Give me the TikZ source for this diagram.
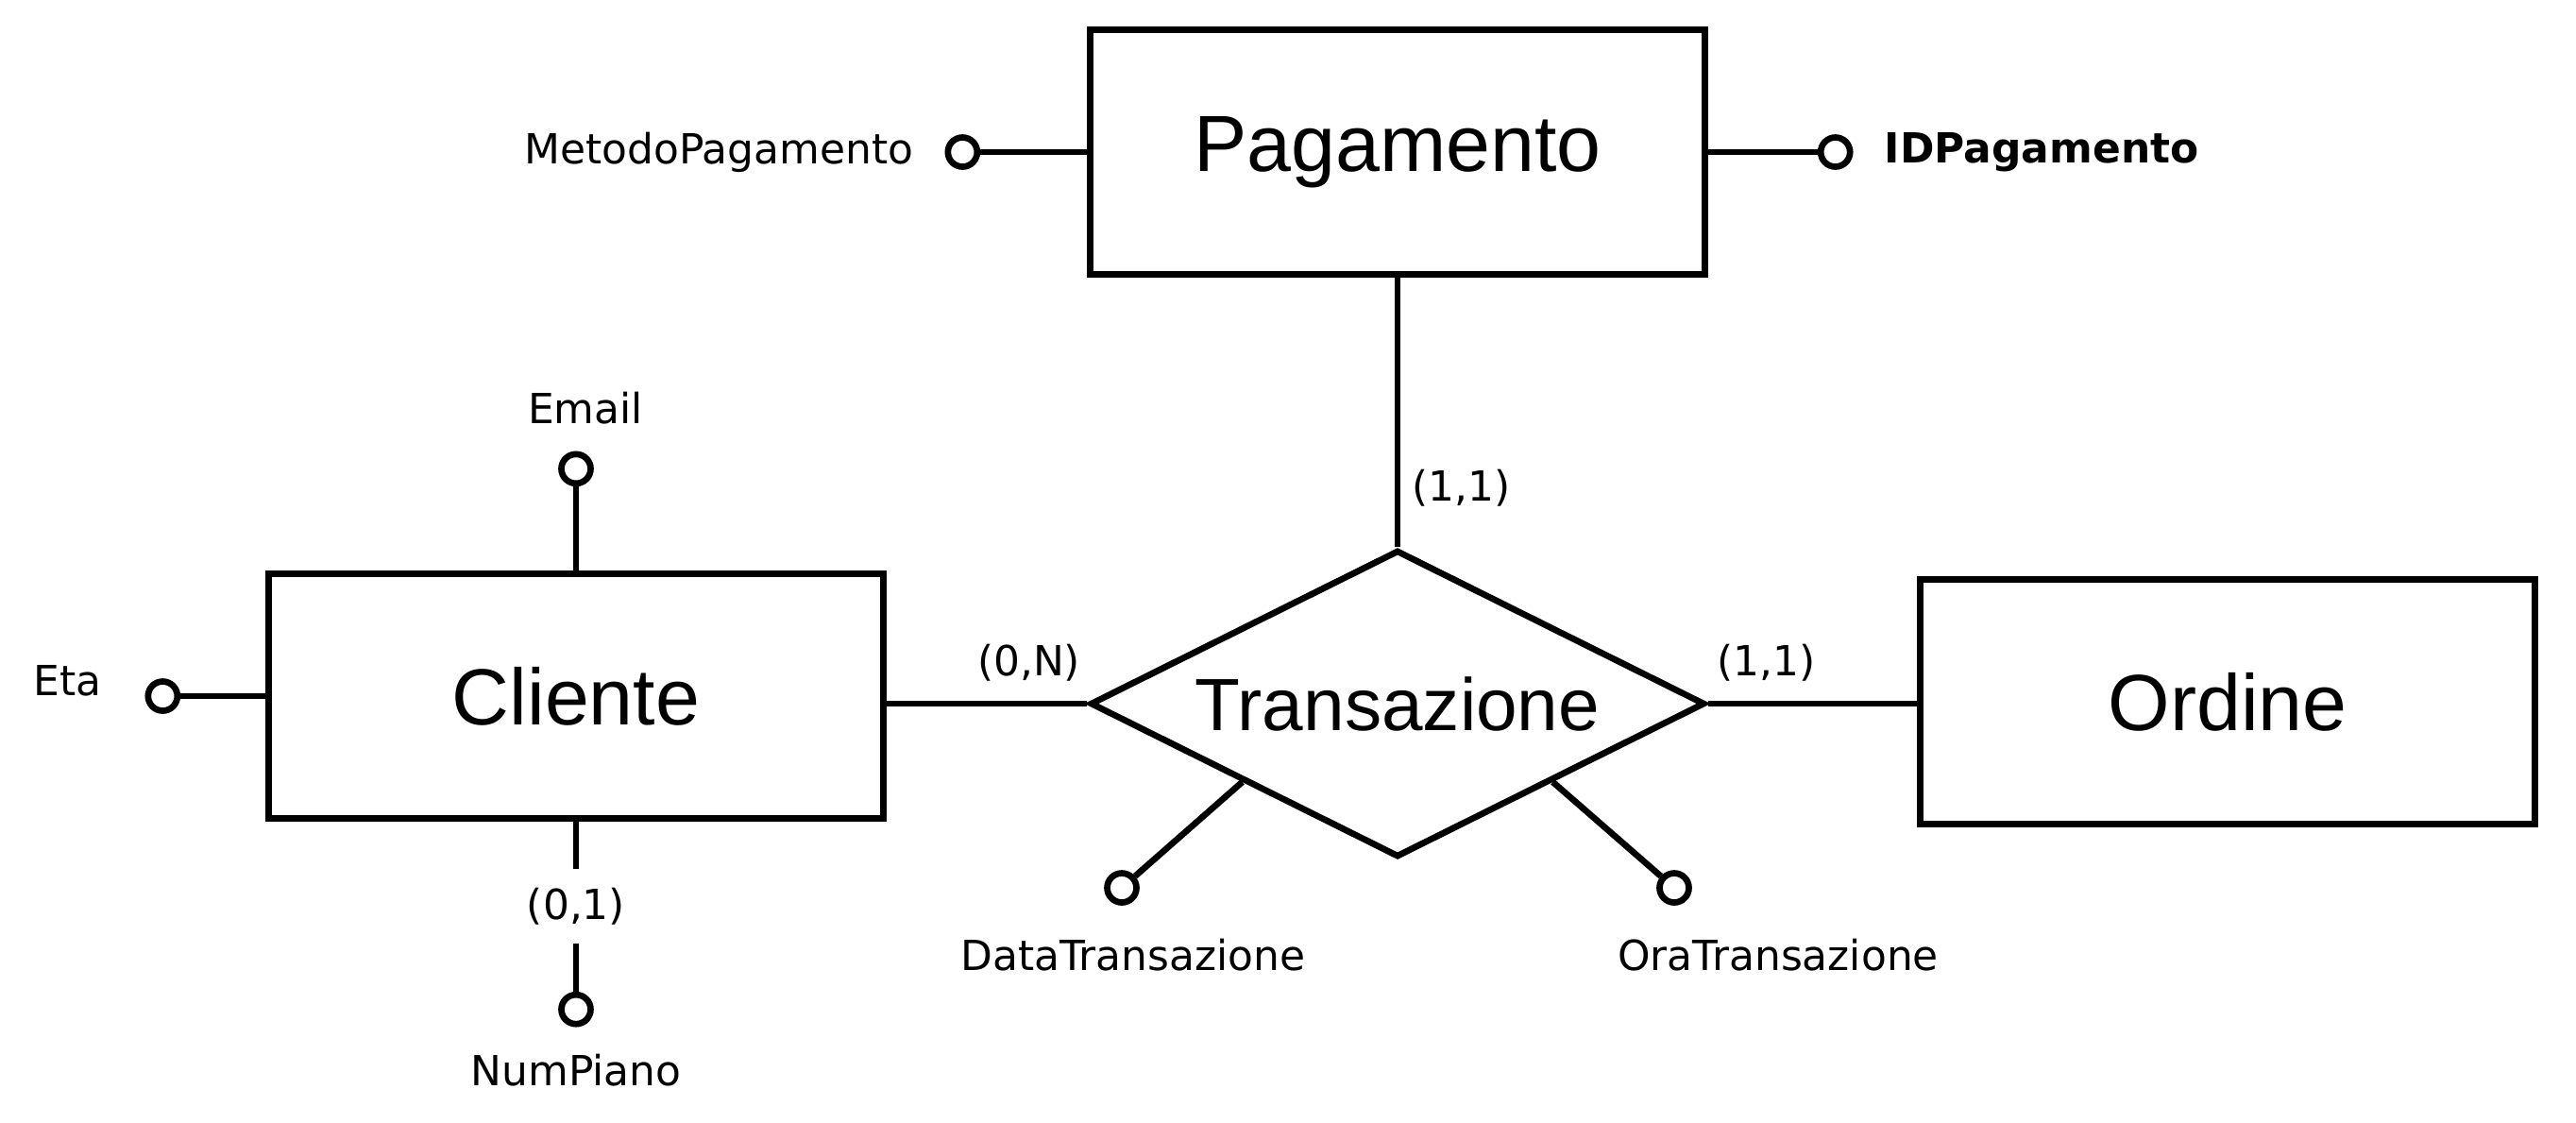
\documentclass[tikz,border=0pt]{standalone}
\usepackage{fontspec}
\newfontfamily\entfont{Liberation Sans}
\newfontfamily\attfont{DejaVu Sans}
\usetikzlibrary{positioning,shapes.geometric}

\begin{document}
\begin{tikzpicture}[
line width=1.9pt,
ent/.style={draw,rectangle,minimum width=6.51cm,minimum height=2.59cm,inner sep=0pt,font=\entfont\fontsize{24}{28}\selectfont},
rel/.style={draw,diamond,aspect=2,minimum width=6.51cm,minimum height=3.25cm,inner sep=0pt,font=\entfont\fontsize{22.3}{26}\selectfont},
att/.style={draw,circle,fill=white,minimum size=0.31cm,inner sep=0pt},
txt/.style={inner sep=0pt,font=\attfont\fontsize{12.5}{15}\selectfont},
card/.style={inner sep=0pt,font=\attfont\fontsize{12.5}{15}\selectfont}
]
\useasboundingbox (0,0) rectangle (27.28,-11.88);
% entities and relation
\node[ent] (pag) at (14.80,-1.61) {Pagamento};
\node[rel] (tra) at (14.80,-7.45) {Transazione};
\node[ent] (cli) at (6.10,-7.37) {Cliente};
\node[ent] (ord) at (23.59,-7.43) {Ordine};
% attributes
\node[att,left=1.13cm of pag] (metodo) {};
\node[txt,left=0.30cm of metodo] (metodotxt) {MetodoPagamento};
\node[att,right=1.16cm of pag] (idpag) {};
\node[txt,right=0.30cm of idpag,font=\attfont\bfseries\fontsize{12.5}{15}\selectfont] (idpagtxt) {IDPagamento};
\node[att,above=0.89cm of cli] (email) {};
\node[txt,above=0.25cm of email,xshift=1mm] (emailtxt) {Email};
\node[att,left=0.90cm of cli] (eta) {};
\node[txt,left=0.43cm of eta,yshift=1.6mm] (etatxt) {Eta};
\node[att,below=1.80cm of cli] (piano) {};
\node[txt,below=0.25cm of piano] (pianotxt) {NumPiano};
\node[att] (datatr) at (11.88,-9.40) {};
\node[txt,below=0.32cm of datatr,xshift=1.2mm] (datatrtxt) {DataTransazione};
\node[att] (oratr) at (17.73,-9.40) {};
\node[txt,below=0.32cm of oratr,xshift=11mm] (oratrtxt) {OraTransazione};
% connectors
\draw (metodo) -- (pag);
\draw (pag) -- (idpag);
\draw (email) -- (cli);
\draw (eta) -- (cli);
\draw (cli) -- node[card,fill=white,inner xsep=1mm,inner ysep=2mm] (c01) {(0,1)} (piano);
\draw (tra.south west) -- (datatr);
\draw (tra.south east) -- (oratr);
\draw (pag) -- node[card,pos=0.78,right=1.2mm] (c11p) {(1,1)} (tra);
\draw (tra.west) -- node[card,pos=0.29,above=2mm] (c0n) {(0,N)} (tra.west -| cli.east);
\draw (tra.east) -- node[card,pos=0.28,above=2mm] (c11o) {(1,1)} (tra.east -| ord.west);
\end{tikzpicture}
\end{document}
